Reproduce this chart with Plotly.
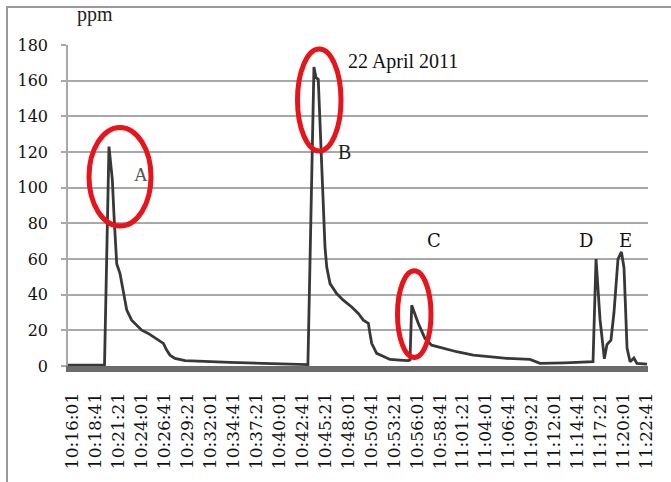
import plotly.graph_objects as go

DAY = "2011-04-22 "

# time of reading (hh:mm:ss) and concentration (ppm)
times = [
    "10:15:30", "10:19:44", "10:20:15", "10:20:29", "10:20:38", "10:20:52", "10:21:09",
    "10:21:32", "10:21:55", "10:22:19", "10:22:53", "10:23:28", "10:24:03", "10:24:49",
    "10:25:24", "10:25:59", "10:26:34", "10:26:57", "10:27:20", "10:27:55", "10:29:05",
    "10:34:18", "10:42:26", "10:43:21", "10:44:03", "10:44:17", "10:44:33", "10:44:45",
    "10:44:57", "10:45:08", "10:45:20", "10:45:32", "10:45:55", "10:46:41", "10:47:27",
    "10:48:26", "10:49:12", "10:49:47", "10:50:22", "10:50:33", "10:50:45", "10:51:20",
    "10:52:06", "10:52:53", "10:54:02", "10:55:00", "10:55:12", "10:55:24", "10:56:10",
    "10:56:56", "10:57:43", "10:59:04", "11:00:37", "11:02:33", "11:04:29", "11:06:26",
    "11:09:08", "11:10:18", "11:13:12", "11:16:06", "11:16:27", "11:16:48", "11:17:16",
    "11:17:46", "11:18:04", "11:18:32", "11:18:53", "11:19:21", "11:19:45", "11:20:03",
    "11:20:24", "11:20:45", "11:21:12", "11:21:33", "11:22:43",
]
ppm = [
    0.5, 0.5, 123, 113, 105, 81.6, 57.4,
    51.8, 40.6, 31.3, 25.7, 22.9, 20.1, 18.3,
    16.4, 14.5, 12.7, 8.9, 6.1, 4.3, 3.0,
    2.0, 1.2, 0.8, 167.7, 161.7, 160.8, 135.7,
    104, 83.5, 66.7, 55.5, 46.2, 40.6, 36.9,
    33.1, 29.5, 25.7, 23.9, 18.3, 12.7, 7.1,
    5.2, 3.7, 3.3, 3.0, 3.4, 34.1, 23.9,
    15.5, 11.7, 9.8, 8.0, 6.1, 5.2, 4.3,
    3.7, 1.5, 1.8, 2.4, 2.4, 60, 26,
    4.0, 12, 14.5, 30, 60, 64, 55,
    10, 2.4, 4.5, 1.5, 1.0,
]

y_ticks = [0, 20, 40, 60, 80, 100, 120, 140, 160, 180]
first_tick = "10:16:01"
tick_step_ms = 160000

peak_labels = ["A", "B", "C", "D", "E"]
unit_label = "ppm"
date_label = "22 April 2011"

# plot-area geometry in pixels (for placing decorations)
L, R, T, B = 68, 648, 45, 366
W, H = 671, 482


def px(x):
    return (x - L) / (R - L)


def py(y):
    return (B - y) / (B - T)


fig = go.Figure()
fig.add_trace(go.Scatter(
    x=[DAY + t for t in times], y=ppm, mode="lines",
    line=dict(color="#383838", width=2.8), showlegend=False,
))

serif = "DejaVu Serif, serif"
times_font = "Liberation Serif, serif"

fig.update_layout(
    width=W, height=H,
    margin=dict(l=L, r=W - R, t=T, b=H - B),
    paper_bgcolor="white", plot_bgcolor="white",
    xaxis=dict(
        type="date",
        range=[DAY + "10:15:29.7", DAY + "11:22:50"],
        tick0=DAY + first_tick, dtick=tick_step_ms, tickformat="%H:%M:%S",
        tickangle=-90, showgrid=False, zeroline=False,
        showline=True, linecolor="#6b6b6b", linewidth=6,
        ticks="", ticklabelstandoff=14,
        tickfont=dict(family=serif, size=17, color="#111"),
        automargin=False,
    ),
    yaxis=dict(
        range=[0, 180], tickvals=y_ticks, showgrid=True,
        gridcolor="#a8a8a8", gridwidth=1.6, zeroline=False,
        showline=True, linecolor="#a8a8a8", linewidth=1.6,
        ticks="outside", ticklen=5, tickcolor="#a8a8a8", tickwidth=1.6,
        ticklabelstandoff=10,
        tickfont=dict(family=serif, size=16, color="#111"),
        automargin=False,
    ),
)

shapes = [
    # outer frame of the picture (left and top edges visible)
    dict(type="rect", xref="paper", yref="paper",
         x0=px(7), x1=px(690), y0=py(495), y1=py(7),
         line=dict(color="#9a9a9a", width=2)),
]
red = "#e8141c"
for (x0, x1, y0, y1) in [(89, 151, 127.5, 226), (297.5, 341, 49, 151), (397.5, 431, 270.8, 357.5)]:
    shapes.append(dict(type="circle", xref="paper", yref="paper",
                       x0=px(x0), x1=px(x1), y0=py(y1), y1=py(y0),
                       line=dict(color=red, width=5)))
fig.update_layout(shapes=shapes)

annos = [
    (unit_label, 95, 15, times_font, 20, "#222"),
    (date_label, 402.5, 61, times_font, 20, "#111"),
    (peak_labels[0], 141, 174, times_font, 19, "#555"),
    (peak_labels[1], 344, 152, times_font, 20, "#222"),
    (peak_labels[2], 434, 240, serif, 18, "#111"),
    (peak_labels[3], 586, 240, serif, 18, "#111"),
    (peak_labels[4], 625, 240, serif, 18, "#111"),
]
for text, x, y, fam, size, col in annos:
    fig.add_annotation(text=text, xref="paper", yref="paper", x=px(x), y=py(y),
                       xanchor="center", yanchor="middle", showarrow=False,
                       font=dict(family=fam, size=size, color=col))

fig.write_html("out.html", config={"displayModeBar": False},
               post_script="document.body.style.margin='0';")
